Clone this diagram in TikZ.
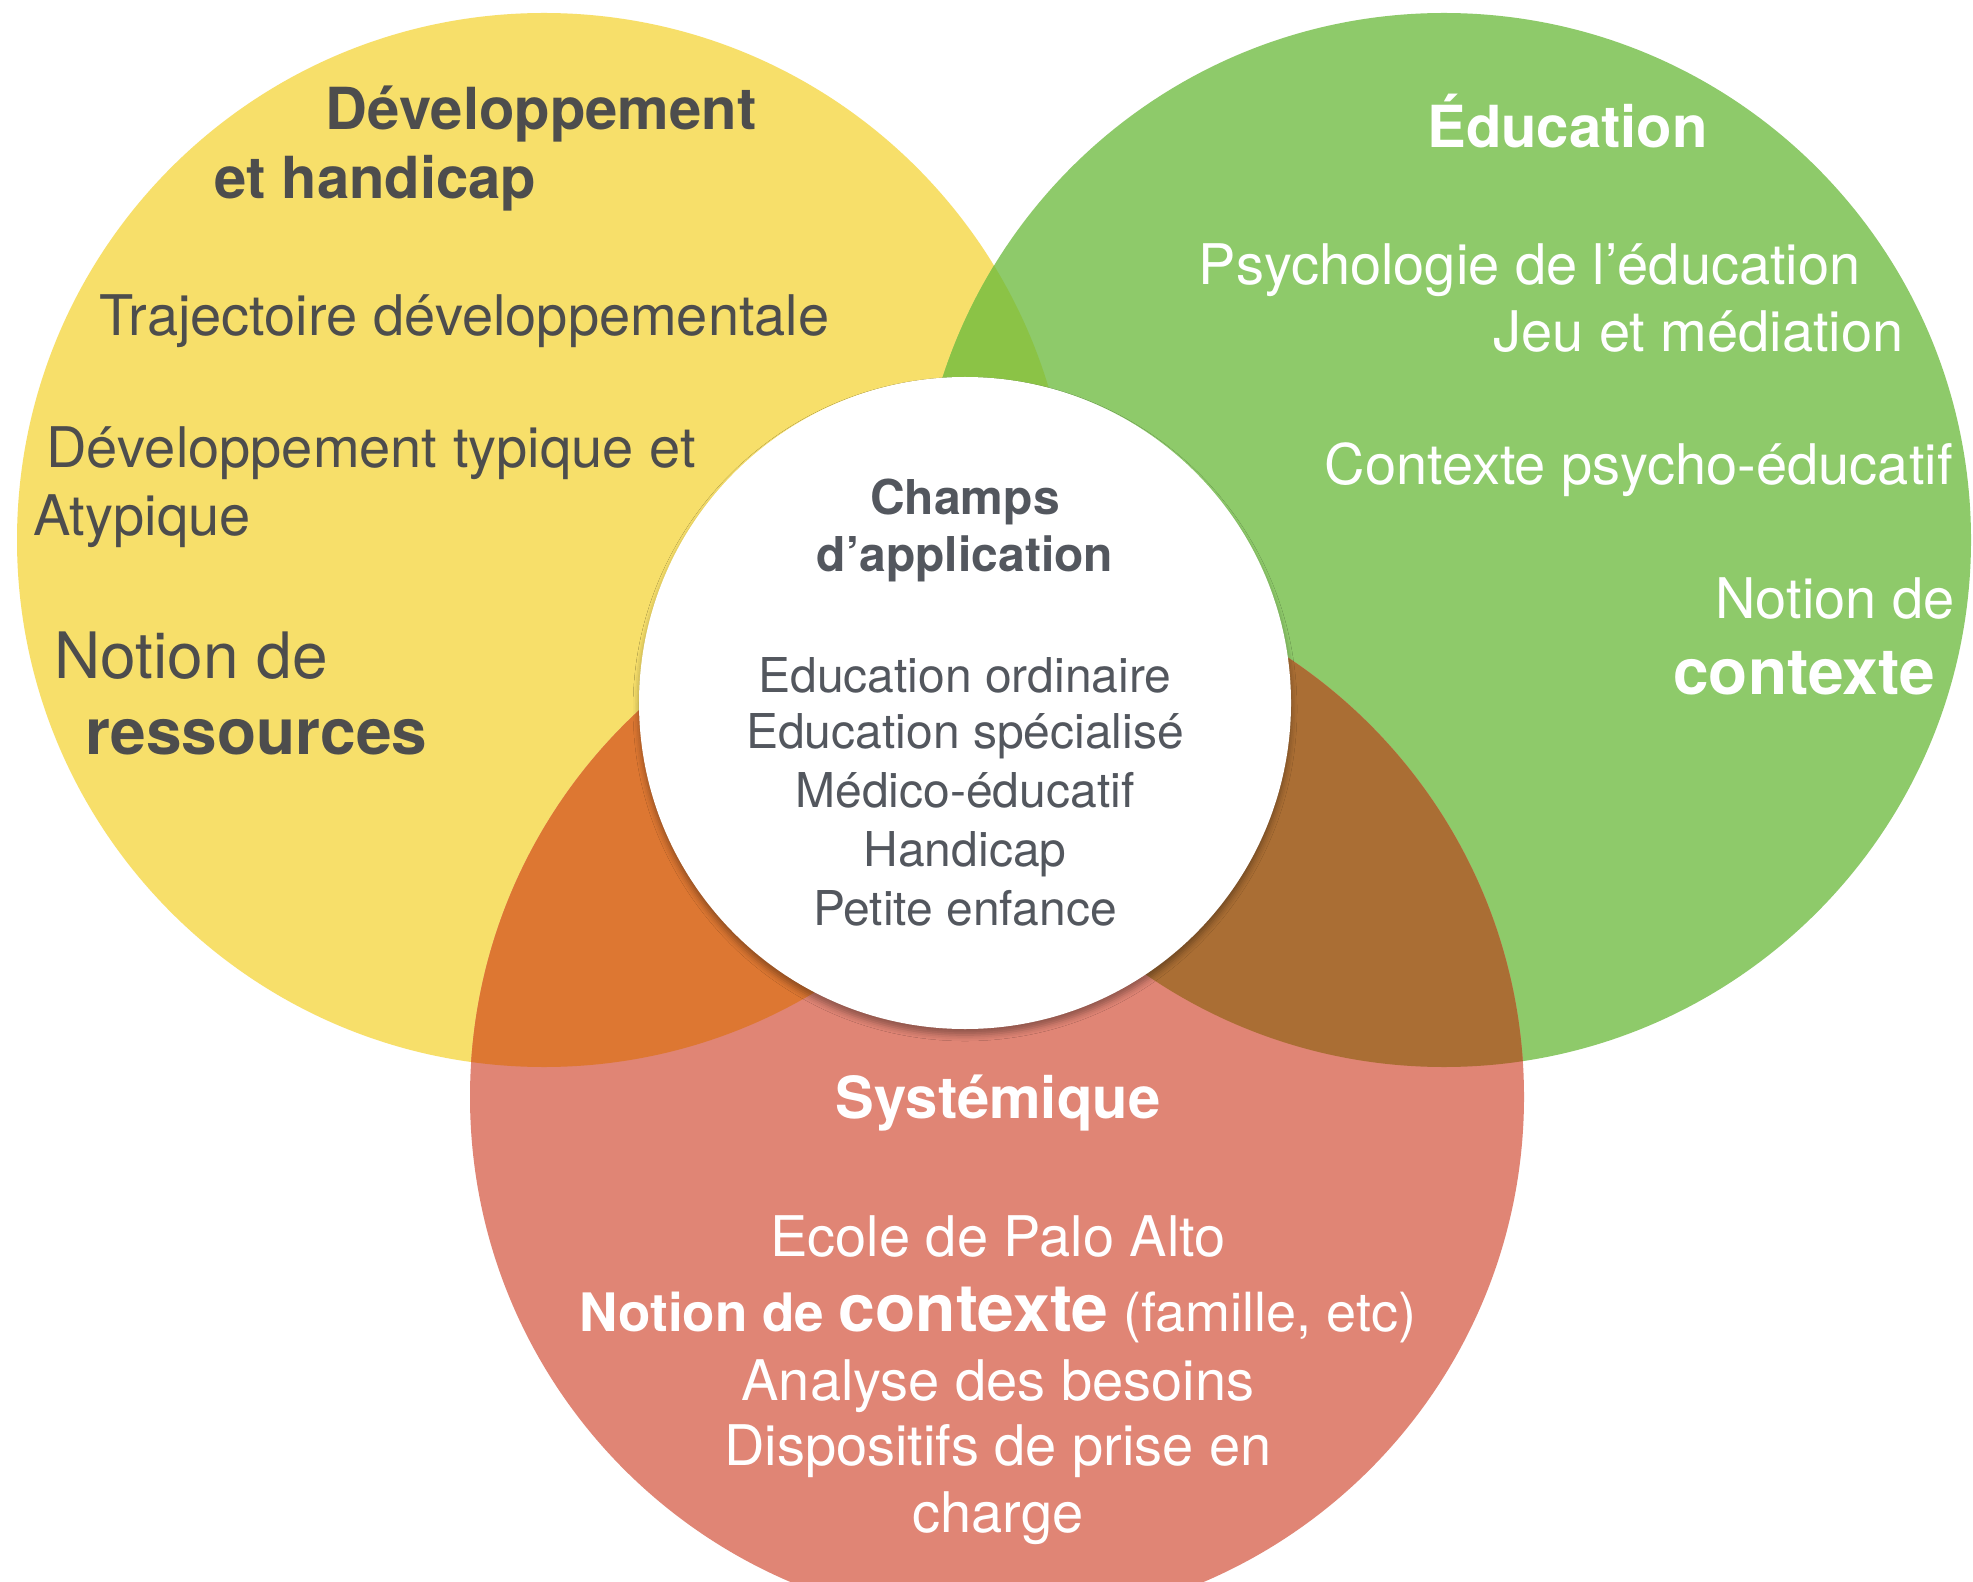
\documentclass[tikz,border=0pt]{standalone}
\usepackage{fontspec}
\setmainfont{TeX Gyre Heros}
\usetikzlibrary{shadows.blur}

\definecolor{devyellow}{HTML}{F7DF6A}
\definecolor{edugreen}{HTML}{8ECA6A}
\definecolor{sysred}{HTML}{E08575}
\definecolor{devedu}{HTML}{8BC346}
\definecolor{devsys}{HTML}{DD7732}
\definecolor{edusys}{HTML}{AA6E34}
\definecolor{alltri}{HTML}{9A6A30}
\definecolor{txtdark}{HTML}{4D4D4D}
\definecolor{txtgrey}{HTML}{53575E}

\newcommand{\venn}[3]{%
 \coordinate (#1) at (#2);%
 \fill [#3] (#1) circle (263.5pt);%
}
\newcommand{\overlap}[3]{%
 \begin{scope}%
  \clip (#1) circle (263.5pt);%
  \fill [#3] (#2) circle (263.5pt);%
 \end{scope}%
}

\begin{document}
\begin{tikzpicture}[x=0.5pt,y=-0.5pt,every node/.style={inner sep=0pt},
  lite/.style={font=\fontsize{28}{34}\selectfont},
  big/.style={font=\fontsize{32}{38}\selectfont},
  hd/.style={font=\bfseries\fontsize{29}{35}\selectfont},
  bigbold/.style={font=\bfseries\fontsize{32}{38}\selectfont},
  small/.style={font=\fontsize{24}{29}\selectfont},
  smallbold/.style={font=\bfseries\fontsize{24}{29}\selectfont}]
  \useasboundingbox (0,0) rectangle (1973,1582);
  \fill [white] (0,0) rectangle (1973,1582);
  % the three circles
  \venn{dev}{544,540}{devyellow};
  \venn{edu}{1444,540}{edugreen};
  \venn{sys}{997,1097}{sysred};
  \overlap{dev}{edu}{devedu};
  \overlap{dev}{sys}{devsys};
  \overlap{edu}{sys}{edusys};
  \begin{scope}
   \clip (dev) circle (263.5pt);
   \clip (edu) circle (263.5pt);
   \fill [alltri] (sys) circle (263.5pt);
  \end{scope}
  \node [circle,fill=white,minimum size=326pt,
    blur shadow={shadow xshift=0pt,shadow yshift=-3pt,shadow blur radius=3pt,shadow opacity=35}] (champ) at (965,703) {};

  % Developpement et handicap
  \node [hd,text=txtdark,anchor=base west] (devt1) at (325,130) {Développement};
  \node [hd,text=txtdark,anchor=base west] (devt2) at (214,199) {et handicap};
  \node [lite,text=txtdark,anchor=base west] (traj) at (99,336) {Trajectoire développementale};
  \node [lite,text=txtdark,anchor=base west] (typ) at (46,468) {Développement typique et};
  \node [lite,text=txtdark,anchor=base west] (atyp) at (33,536) {Atypique};
  \node [big,text=txtdark,anchor=base west] (res1) at (54,678) {Notion de};
  \node [bigbold,text=txtdark,anchor=base west] (res2) at (85,754) {ressources};

  % Education
  \node [hd,text=white,anchor=base west] (edut) at (1427,148) {Éducation};
  \node [lite,text=white,anchor=base east] (psy) at (1861,285) {Psychologie de l’éducation};
  \node [lite,text=white,anchor=base east] (jeu) at (1904,352) {Jeu et médiation};
  \node [lite,text=white,anchor=base east] (ctx) at (1953,485) {Contexte psycho-éducatif};
  \node [lite,text=white,anchor=base east] (not2) at (1955,618) {Notion de};
  \node [bigbold,text=white,anchor=base east] (ctx2) at (1935,694) {contexte};

  % Champs d'application
  \node [smallbold,text=txtgrey,anchor=base] (ch1) at (965,515) {Champs};
  \node [smallbold,text=txtgrey,anchor=base] (ch2) at (965,572) {d’application};
  \node [small,text=txtgrey,anchor=base] (ch3) at (965,692) {Education ordinaire};
  \node [small,text=txtgrey,anchor=base] (ch4) at (965,748) {Education spécialisé};
  \node [small,text=txtgrey,anchor=base] (ch5) at (965,807) {Médico-éducatif};
  \node [small,text=txtgrey,anchor=base] (ch6) at (965,866) {Handicap};
  \node [small,text=txtgrey,anchor=base] (ch7) at (965,925) {Petite enfance};

  % Systemique
  \node [hd,text=white,anchor=base] (syst) at (998,1118) {Systémique};
  \node [lite,text=white,anchor=base] (palo) at (998,1256) {Ecole de Palo Alto};
  \node [text=white,anchor=base] (nctx) at (998,1331) {{\bfseries\fontsize{26.5}{31}\selectfont Notion de
    \fontsize{33}{38}\selectfont contexte}{\fontsize{27}{32}\selectfont\ (famille, etc)}};
  \node [lite,text=white,anchor=base] (besoin) at (998,1400) {Analyse des besoins};
  \node [lite,text=white,anchor=base] (disp1) at (998,1465) {Dispositifs de prise en};
  \node [lite,text=white,anchor=base] (disp2) at (998,1532) {charge};
\end{tikzpicture}
\end{document}
